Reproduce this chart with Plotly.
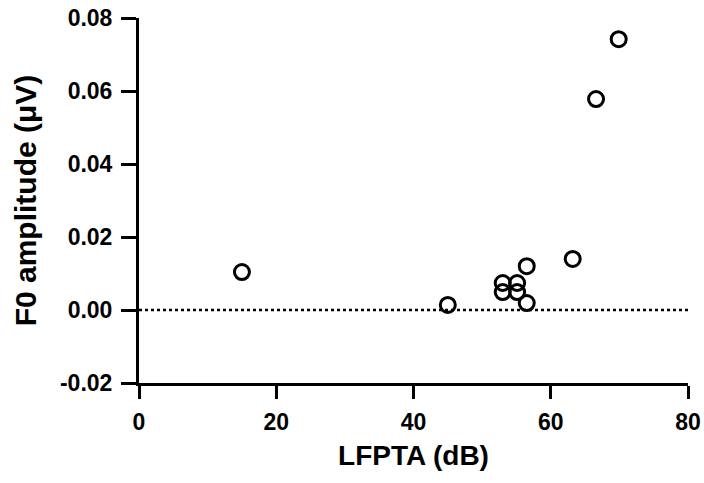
import plotly.graph_objects as go

lfpta = [15.0, 45.0, 53.0, 53.0, 55.1, 55.1, 56.5, 56.5, 63.2, 66.6, 69.9]
f0_amp = [0.0104, 0.0014, 0.0074, 0.0049, 0.0074, 0.0049, 0.0120, 0.0019, 0.0140, 0.0578, 0.0742]

ref_x = [0, 80]
ref_y = [0, 0]

x_ticks = [0, 20, 40, 60, 80]
x_ticktext = ["0", "20", "40", "60", "80"]
y_ticks = [-0.02, 0.00, 0.02, 0.04, 0.06, 0.08]
y_ticktext = ["-0.02", "0.00", "0.02", "0.04", "0.06", "0.08"]

fig = go.Figure()
fig.add_trace(go.Scatter(x=ref_x, y=ref_y, mode="lines",
                         line=dict(color="black", width=2.5, dash="dot"),
                         showlegend=False, hoverinfo="skip"))
fig.add_trace(go.Scatter(x=lfpta, y=f0_amp, mode="markers",
                         marker=dict(symbol="circle-open", size=15, color="black",
                                     line=dict(width=3, color="black")),
                         showlegend=False, cliponaxis=False))

font_family = "Liberation Sans, Arial, sans-serif"
fig.update_layout(
    template="none",
    width=704, height=483,
    margin=dict(l=139, r=16, t=18, b=100),
    plot_bgcolor="white", paper_bgcolor="white",
    font=dict(family=font_family, color="black"),
    xaxis=dict(range=[0, 80], tickvals=x_ticks,
               ticktext=["<b>%s</b>" % t for t in x_ticktext],
               showgrid=False, zeroline=False, automargin=False,
               showline=True, linewidth=3, linecolor="black",
               ticks="outside", ticklen=13, tickwidth=3, tickcolor="black",
               ticklabelstandoff=3,
               tickfont=dict(size=23, family=font_family),
               title=dict(text="<b>LFPTA (dB)</b>", font=dict(size=28, family=font_family),
                          standoff=12)),
    yaxis=dict(range=[-0.02, 0.08], tickvals=y_ticks,
               ticktext=["<b>%s</b>" % t for t in y_ticktext],
               showgrid=False, zeroline=False, automargin=False,
               showline=True, linewidth=3, linecolor="black",
               ticks="outside", ticklen=15, tickwidth=3, tickcolor="black",
               ticklabelstandoff=4,
               tickfont=dict(size=23, family=font_family),
               title=dict(text="<b>F0 amplitude (μV)</b>", font=dict(size=30, family=font_family),
                          standoff=15)),
)

fig.write_html("out.html")
